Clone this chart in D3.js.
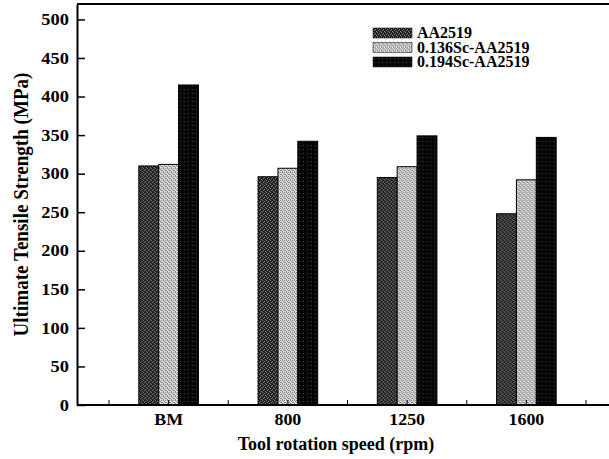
<!DOCTYPE html>
<html>
<head>
<meta charset="utf-8">
<script src="https://d3js.org/d3.v7.min.js"></script>
<style>
	html, body { margin: 0; padding: 0; background: #fff; }
	svg text { font-family: "Liberation Serif", "Times New Roman", serif; font-weight: bold; fill: #000; }
</style>
</head>
<body>
<div id="chart"></div>
<script>
// データ
const categories = ['BM', '800', '1250', '1600'];
const seriesNames = ['AA2519', '0.136Sc-AA2519', '0.194Sc-AA2519'];
const aa2519 = [310, 296, 295, 248];
const sc136 = [312, 307, 309, 292];
const sc194 = [415, 342, 349, 347];
const yTicks = [0, 50, 100, 150, 200, 250, 300, 350, 400, 450, 500];

const seriesValues = [aa2519, sc136, sc194];

const width = 609, height = 459;
const svg = d3.select('#chart').append('svg')
	.attr('width', width)
	.attr('height', height);

// 塗りパターン（網点風）
const defs = svg.append('defs');
function makePattern(id, bg, dot, cells) {
	const p = defs.append('pattern')
		.attr('id', id)
		.attr('patternUnits', 'userSpaceOnUse')
		.attr('width', 4).attr('height', 4);
	p.append('rect').attr('width', 4).attr('height', 4).attr('fill', bg);
	cells.forEach(c => {
		p.append('rect').attr('x', c[0]).attr('y', c[1]).attr('width', 1).attr('height', 1).attr('fill', dot);
	});
}
makePattern('pat0', '#1e1e1e', '#8a8a8a', [[0, 0], [2, 1], [1, 2], [3, 3]]);
makePattern('pat1', '#e2e2e2', '#7a7a7a', [[0, 0], [2, 0], [1, 1], [3, 2], [0, 3], [2, 2]]);
makePattern('pat2', '#050505', '#4a4a4a', [[1, 1]]);
const fills = ['url(#pat0)', 'url(#pat1)', 'url(#pat2)'];

// スケール
const plotLeft = 77, plotTop = 4, plotBottom = 405, plotRight = 609;
const x0 = d3.scaleBand()
	.domain(categories)
	.range([109, 586])
	.paddingInner(0.5)
	.paddingOuter(0.25);
const x1 = d3.scaleBand()
	.domain(seriesNames)
	.range([0, x0.bandwidth()]);
const y = d3.scaleLinear()
	.domain([0, 520])
	.range([plotBottom, plotTop]);

// 棒
const groups = svg.append('g').selectAll('g')
	.data(categories)
	.join('g')
	.attr('transform', d => `translate(${x0(d)},0)`);

groups.selectAll('rect')
	.data((c, ci) => seriesNames.map((s, si) => ({ s: s, si: si, v: seriesValues[si][ci] })))
	.join('rect')
	.attr('x', d => x1(d.s))
	.attr('y', d => y(d.v))
	.attr('width', x1.bandwidth())
	.attr('height', d => y(0) - y(d.v))
	.attr('fill', d => fills[d.si])
	.attr('stroke', '#000')
	.attr('stroke-width', 1);

// 枠線（上）
svg.append('line')
	.attr('x1', plotLeft).attr('x2', plotRight)
	.attr('y1', plotTop).attr('y2', plotTop)
	.attr('stroke', '#000').attr('stroke-width', 2);

// Y軸
const yAxis = svg.append('g')
	.attr('transform', `translate(${plotLeft},0)`)
	.call(d3.axisLeft(y).tickValues(yTicks).tickSizeInner(-8).tickSizeOuter(0).tickPadding(8));
yAxis.select('.domain').attr('stroke-width', 2);
yAxis.selectAll('.tick line').attr('stroke-width', 1.5);
yAxis.selectAll('.tick text')
	.style('font-size', '16px')
	.attr('x', -7)
	.attr('transform', 'scale(1.15,1)');

// X軸
const xAxis = svg.append('g')
	.attr('transform', `translate(0,${plotBottom})`)
	.call(d3.axisBottom(x0).tickSizeInner(-5).tickSizeOuter(0).tickPadding(9));
xAxis.select('.domain').attr('d', `M${plotLeft},0H${plotRight}`).attr('stroke-width', 2);
xAxis.selectAll('.tick text')
	.style('font-size', '16px')
	.attr('x', 0)
	.attr('transform', 'scale(1.12,1)');

// 目盛（カテゴリ間）
const between = d3.range(categories.length + 1).map(i => x0.range()[0] + i * x0.step());
xAxis.selectAll('.minor')
	.data(between)
	.join('line')
	.attr('class', 'minor')
	.attr('x1', d => d).attr('x2', d => d)
	.attr('y1', 0).attr('y2', -5)
	.attr('stroke', '#000');

// 軸タイトル
svg.append('text')
	.attr('transform', `translate(28,${(plotTop + plotBottom) / 2}) rotate(-90) scale(1.06,1.15)`)
	.attr('text-anchor', 'middle')
	.style('font-size', '18px')
	.text('Ultimate Tensile Strength (MPa)');

svg.append('text')
	.attr('transform', `translate(336,450)`)
	.attr('text-anchor', 'middle')
	.style('font-size', '18px')
	.text('Tool rotation speed (rpm)');

// 凡例
const legend = svg.append('g')
	.attr('transform', 'translate(373,28)');
const items = legend.selectAll('g')
	.data(seriesNames)
	.join('g')
	.attr('transform', (d, i) => `translate(0,${i * 14.5})`);
items.append('rect')
	.attr('width', 39).attr('height', 10)
	.attr('fill', (d, i) => fills[i])
	.attr('stroke', '#000').attr('stroke-width', 0.5);
items.append('text')
	.attr('x', 44).attr('y', 10)
	.style('font-size', '16px')
	.text(d => d);
</script>
</body>
</html>
